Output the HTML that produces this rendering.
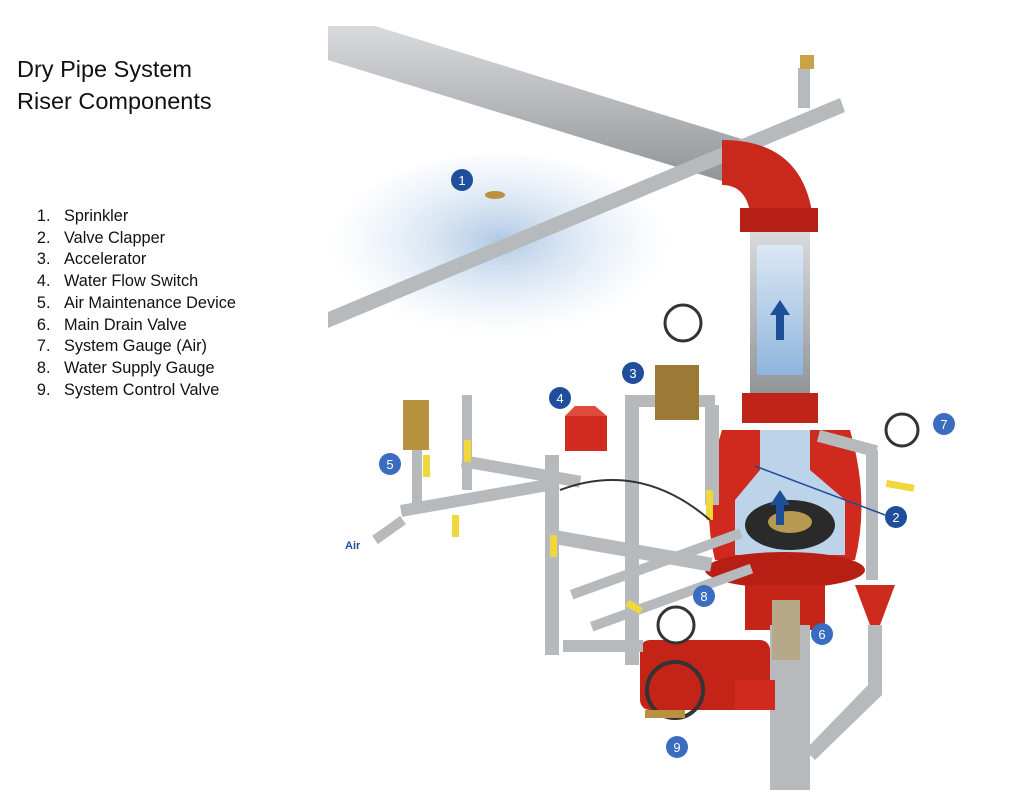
<!DOCTYPE html>
<html><head><meta charset="utf-8"><style>
body{margin:0;background:#fff;width:1024px;height:805px;overflow:hidden;position:relative;font-family:"Liberation Sans",sans-serif}
.t{position:absolute;left:17px;font-size:23.5px;color:#111}
ol{position:absolute;left:31px;top:206px;margin:0;padding-left:24px;font-size:16.3px;line-height:21.7px;color:#111}
ol li{padding-left:9px}
svg{position:absolute;left:0;top:0}
</style></head><body>
<svg width="1024" height="805" viewBox="0 0 1024 805">
<defs>
<radialGradient id="sp" cx="50%" cy="45%" r="50%"><stop offset="0" stop-color="#8fb2da" stop-opacity=".7"/><stop offset="1" stop-color="#c3d9ef" stop-opacity="0"/></radialGradient>
<linearGradient id="pg" x1="0" y1="0" x2="0" y2="1"><stop offset="0" stop-color="#d8dadc"/><stop offset=".5" stop-color="#b5b8bb"/><stop offset="1" stop-color="#8f9396"/></linearGradient>
<linearGradient id="bl" x1="0" y1="0" x2="0" y2="1"><stop offset="0" stop-color="#dbe8f5"/><stop offset="1" stop-color="#8fb5dc"/></linearGradient>
</defs>
<ellipse cx="500" cy="250" rx="170" ry="95" fill="url(#sp)"/>
<polygon points="328,26 375,26 745,140 735,185 328,60" fill="url(#pg)"/>
<polygon points="328,312 840,98 845,112 328,328" fill="#b7babd"/>
<rect x="798" y="68" width="12" height="40" fill="#b7babd"/>
<rect x="800" y="55" width="14" height="14" fill="#c9a24a"/>
<ellipse cx="495" cy="195" rx="10" ry="4" fill="#b8923f"/>
<path d="M722 140 Q800 140 812 212 L750 212 Q745 185 722 185 Z" fill="#c9281c"/>
<rect x="740" y="208" width="78" height="24" fill="#b72016"/>
<rect x="750" y="232" width="60" height="165" fill="url(#pg)"/>
<rect x="757" y="245" width="46" height="130" fill="url(#bl)"/>
<polygon points="780,300 770,315 776,315 776,340 784,340 784,315 790,315" fill="#1c4f98"/>
<rect x="742" y="393" width="76" height="30" fill="#c02317"/>
<path d="M722 430 Q700 500 715 560 L855 560 Q870 500 850 430 Z" fill="#cf2a1d"/>
<path d="M760 430 L760 470 L735 500 L735 555 L845 555 L845 500 L810 470 L810 430 Z" fill="#bcd3ea"/>
<ellipse cx="790" cy="525" rx="45" ry="25" fill="#2a2a2a"/>
<ellipse cx="790" cy="522" rx="22" ry="11" fill="#b79a52"/>
<polygon points="780,490 770,505 776,505 776,525 784,525 784,505 790,505" fill="#1c4f98"/>
<ellipse cx="785" cy="570" rx="80" ry="18" fill="#b71f14"/>
<rect x="745" y="585" width="80" height="45" fill="#c52519"/>
<rect x="770" y="625" width="40" height="165" fill="#b7babd"/>
<rect x="772" y="600" width="28" height="60" fill="#b8a88a"/>
<rect x="640" y="640" width="130" height="70" rx="10" fill="#c42418"/>
<circle cx="675" cy="690" r="28" fill="none" stroke="#333" stroke-width="4"/>
<rect x="735" y="680" width="40" height="30" fill="#cf2a1d"/>
<rect x="645" y="710" width="40" height="8" fill="#b8923f"/>
<polygon points="855,585 895,585 880,625 870,625" fill="#cc2a1d"/>
<rect x="868" y="625" width="14" height="70" fill="#b7babd"/>
<polygon points="868,685 882,695 815,760 805,750" fill="#b7babd"/>
<g fill="#b7babd">
<rect x="545" y="455" width="14" height="200" />
<rect x="625" y="395" width="14" height="270" />
<rect x="563" y="640" width="80" height="12" />
<rect x="400" y="505" width="160" height="12" transform="rotate(-10 400 505)"/>
<rect x="555" y="530" width="160" height="14" transform="rotate(10 555 530)"/>
<rect x="570" y="590" width="180" height="10" transform="rotate(-20 570 590)"/>
<rect x="590" y="622" width="170" height="10" transform="rotate(-20 590 622)"/>
<rect x="412" y="420" width="10" height="90" />
<rect x="462" y="395" width="10" height="95" />
<rect x="463" y="455" width="120" height="12" transform="rotate(10 463 455)"/>
<rect x="625" y="395" width="90" height="12" />
<rect x="705" y="405" width="14" height="100" />
<rect x="820" y="430" width="60" height="12" transform="rotate(15 820 430)"/>
<rect x="866" y="450" width="12" height="130" />
</g>
<rect x="565" y="416" width="42" height="35" fill="#d12a1e"/>
<polygon points="565,416 607,416 595,406 575,406" fill="#e04a3c"/>
<rect x="655" y="365" width="44" height="55" fill="#9c7a35"/>
<circle cx="683" cy="323" r="18" fill="#fff" stroke="#333" stroke-width="3"/>
<circle cx="902" cy="430" r="16" fill="#fff" stroke="#333" stroke-width="3"/>
<circle cx="676" cy="625" r="18" fill="#fff" stroke="#333" stroke-width="3"/>
<rect x="403" y="400" width="26" height="50" fill="#b8923f"/>
<g fill="#f1d83a">
<rect x="423" y="455" width="7" height="22"/><rect x="464" y="440" width="7" height="22"/>
<rect x="452" y="515" width="7" height="22"/><rect x="550" y="535" width="7" height="22"/>
<rect x="629" y="600" width="16" height="7" transform="rotate(30 629 600)"/>
<rect x="706" y="490" width="7" height="30"/><rect x="887" y="480" width="28" height="7" transform="rotate(10 887 480)"/>
</g>
<path d="M560 490 Q640 460 710 520" fill="none" stroke="#333" stroke-width="2"/>
<line x1="755" y1="466" x2="885" y2="515" stroke="#1c4f98" stroke-width="1.5"/>
<line x1="403" y1="520" x2="375" y2="540" stroke="#b7babd" stroke-width="10"/>
<text x="345" y="549" font-size="11" font-weight="bold" fill="#1c4f98">Air</text>
<g font-size="13" fill="#fff" text-anchor="middle" font-family="Liberation Sans">
<g><circle cx="462" cy="180" r="11" fill="#1f4f9c"/><text x="462" y="185">1</text></g>
<g><circle cx="896" cy="517" r="11" fill="#1f4f9c"/><text x="896" y="522">2</text></g>
<g><circle cx="633" cy="373" r="11" fill="#1f4f9c"/><text x="633" y="378">3</text></g>
<g><circle cx="560" cy="398" r="11" fill="#1f4f9c"/><text x="560" y="403">4</text></g>
<g><circle cx="390" cy="464" r="11" fill="#3a6dbf"/><text x="390" y="469">5</text></g>
<g><circle cx="822" cy="634" r="11" fill="#3a6dbf"/><text x="822" y="639">6</text></g>
<g><circle cx="944" cy="424" r="11" fill="#3a6dbf"/><text x="944" y="429">7</text></g>
<g><circle cx="704" cy="596" r="11" fill="#3a6dbf"/><text x="704" y="601">8</text></g>
<g><circle cx="677" cy="747" r="11" fill="#3a6dbf"/><text x="677" y="752">9</text></g>
</g>
</svg>
<div class="t" style="top:56px">Dry Pipe System</div>
<div class="t" style="top:88px">Riser Components</div>
<ol>
<li>Sprinkler</li><li>Valve Clapper</li><li>Accelerator</li><li>Water Flow Switch</li><li>Air Maintenance Device</li><li>Main Drain Valve</li><li>System Gauge (Air)</li><li>Water Supply Gauge</li><li>System Control Valve</li>
</ol>
</body></html>
